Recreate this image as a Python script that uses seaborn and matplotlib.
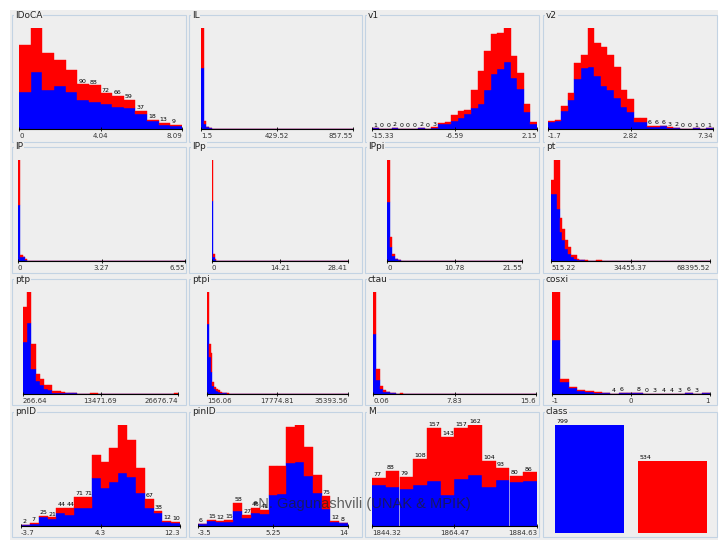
"""
Weka-style per-attribute class histograms (blue / red stacked), 4x4 grid.
"""

import matplotlib

matplotlib.use("Agg")
import matplotlib.pyplot as plt
import numpy as np
import pandas as pd
import seaborn as sns
from matplotlib.patches import Rectangle

W, H = 720, 540
BLUE = "#0000ff"
RED = "#ff0000"
PANEL_BG = "#eeeeee"
BORDER = "#c3d3e3"

# ---- bin counts per attribute (blue class at bottom, red class stacked on top) ----
idoca_range = (0, 8.09)
idoca_blue = [74, 116, 78, 86, 74, 59, 54, 51, 45, 43, 30, 17, 9, 7]
idoca_red = [95, 88, 75, 54, 46, 31, 34, 21, 21, 16, 7, 1, 4, 2]

il_range = (1.5, 857.55)
il_bins = 57
il_blue = [717, 59, 20, 6]
il_red = [473, 39, 8, 2]

v1_range = (-15.33, 2.15)
v1_blue = [1, 0, 0, 2, 0, 0, 0, 2, 0, 2, 9, 10, 15, 22, 30, 42, 50, 77, 110, 120, 133, 102, 80, 33, 9]
v1_red = [0, 0, 0, 0, 0, 0, 0, 0, 0, 1, 3, 4, 12, 13, 7, 36, 65, 78, 80, 71, 68, 43, 31, 17, 4]

v2_range = (-1.7, 7.34)
v2_blue = [14, 15, 35, 58, 99, 121, 123, 105, 85, 78, 61, 43, 33, 13, 13, 4, 4, 5, 2, 1, 0, 0, 1, 0, 1]
v2_red = [1, 2, 10, 13, 32, 27, 78, 67, 78, 70, 62, 35, 27, 8, 8, 2, 2, 1, 1, 1, 0, 0, 0, 0, 0]

ip_range = (0, 6.55)
ip_bins = 72
ip_blue = [635, 50, 40, 15, 4, 2]
ip_red = [513, 18, 6, 4, 1, 1]

ipp_range = (0, 28.41)
ipp_bins = 136
ipp_blue = [700, 43, 43, 15, 4]
ipp_red = [480, 39, 39, 4, 1]

ippi_range = (0, 21.55)
ippi_bins = 50
ippi_blue = [584, 139, 50, 20, 6]
ippi_red = [413, 99, 23, 3, 1]

pt_range = (515.22, 68395.52)
pt_bins = 56
pt_blue = [199, 199, 154, 87, 62, 37, 22, 12, 7, 4, 3, 2, 1, 0, 0, 0, 0, 0]
pt_red = [43, 103, 148, 42, 35, 25, 20, 5, 10, 3, 1, 2, 1, 0, 0, 0, 3, 3]

ptp_range = (266.64, 26676.74)
ptp_blue = [226, 309, 110, 55, 38, 23, 16, 6, 4, 4, 3, 3, 3, 0, 0, 0, 0, 0, 0,
            0, 0, 0, 0, 0, 0, 0, 0, 0, 0, 0, 0, 0, 0, 0, 0, 0, 2]
ptp_red = [148, 132, 105, 33, 26, 15, 22, 6, 8, 5, 3, 1, 1, 0, 0, 0, 3, 3, 0,
           0, 0, 0, 0, 0, 0, 0, 0, 0, 0, 0, 0, 0, 0, 0, 0, 0, 1]

ptpi_range = (156.06, 35393.56)
ptpi_bins = 77
ptpi_blue = [395, 211, 125, 48, 27, 15, 13, 8, 4, 4, 4, 2]
ptpi_red = [183, 70, 105, 20, 13, 13, 8, 3, 4, 4, 2, 2]

ctau_range = (0.06, 15.6)
ctau_bins = 49
ctau_blue = [546, 128, 43, 21, 15, 9, 6, 3, 3]
ctau_red = [384, 98, 30, 16, 6, 3, 0, 0, 3]

cosxi_range = (-1, 1)
cosxi_blue = [480, 105, 51, 30, 21, 12, 7, 3, 5, 10, 6, 0, 2, 3, 3, 2, 5, 2, 9]
cosxi_red = [420, 25, 15, 6, 9, 3, 3, 1, 1, 2, 2, 0, 1, 1, 1, 1, 1, 1, 2]

pnid_range = (-3.7, 12.3)
pnid_blue = [2, 5, 23, 16, 33, 28, 44, 44, 118, 93, 107, 129, 121, 82, 44, 33, 10, 8]
pnid_red = [0, 2, 2, 5, 11, 16, 27, 27, 56, 63, 85, 119, 91, 61, 23, 5, 2, 2]

pinid_range = (-3.5, 14)
pinid_blue = [5, 13, 10, 11, 38, 21, 33, 31, 79, 80, 158, 161, 127, 83, 42, 10, 7]
pinid_red = [1, 2, 2, 4, 20, 6, 12, 10, 71, 72, 92, 93, 71, 46, 33, 2, 1]

m_range = (1844.32, 1884.63)
m_blue = [65, 63, 59, 65, 72, 50, 76, 82, 62, 74, 71, 72]
m_red = [12, 25, 20, 43, 85, 93, 81, 80, 42, 19, 9, 14]

class_names = ["0", "1"]
class_counts = [799, 534]

# ---- layout (pixels) ----
col_boxes = [(12, 186), (189, 362), (365, 539), (543, 717)]
row_title_y = [15, 147, 279, 412]
row_bottom = [142, 273, 405, 537]
row_top = [28, 160, 292, 425]
row_base = [129, 261, 394, 526]


def fmt(v):
    s = f"{v:.2f}".rstrip("0").rstrip(".")
    return "0" if s in ("-0", "") else s


def pad(vals, n):
    return np.pad(np.asarray(vals, dtype=float), (0, n - len(vals)))


def px_axes(fig, x0, x1, top, base):
    return fig.add_axes([x0 / W, 1 - base / H, (x1 - x0) / W, (base - top) / H])


def draw_hist(fig, x0, x1, row, lo, hi, blue, red, nbins=None):
    nbins = nbins or len(blue)
    blue = pad(blue, nbins)
    red = pad(red, nbins)
    total = blue + red
    edges = np.linspace(lo, hi, nbins + 1)
    centers = (edges[:-1] + edges[1:]) / 2
    df = pd.DataFrame({
        "x": np.tile(centers, 2),
        "n": np.concatenate([blue, red]),
        "cls": ["0"] * nbins + ["1"] * nbins,
    })
    ax = px_axes(fig, x0, x1, row_top[row], row_base[row])
    sns.histplot(data=df, x="x", weights="n", hue="cls", hue_order=["1", "0"],
                 palette={"0": BLUE, "1": RED}, bins=nbins, binrange=(lo, hi), multiple="stack",
                 alpha=1, linewidth=0, legend=False, ax=ax)
    # close the hairline seams between neighbouring bars
    for p in ax.patches:
        p.set_edgecolor(p.get_facecolor())
        p.set_linewidth(0.3)
    ax.set_xlim(lo, hi)
    ax.set_ylim(0, total.max())
    ax.patch.set_alpha(0)
    for side in ("left", "top", "right"):
        ax.spines[side].set_visible(False)
    ax.spines["bottom"].set_color("black")
    ax.spines["bottom"].set_linewidth(0.8)
    ax.set_yticks([])
    ax.set_xlabel("")
    ax.set_ylabel("")
    ticks = [lo, (lo + hi) / 2, hi]
    ax.set_xticks(ticks)
    ax.set_xticklabels([fmt(t) for t in ticks])
    ax.tick_params(axis="x", length=3, width=0.6, direction="inout", labelsize=5, pad=1.5,
                   labelcolor="#333333")
    labels = ax.get_xticklabels()
    labels[0].set_ha("left")
    labels[2].set_ha("right")

    # Weka prints the count above a bar only when the number fits in the bar width
    bar_px = (x1 - x0) / nbins
    for i in range(nbins):
        s = str(int(total[i]))
        if 3.8 * len(s) + 1 <= bar_px:
            ax.annotate(s, (edges[i], total[i]), xytext=(0.8, 0.6), textcoords="offset points",
                        fontsize=4.5, ha="left", va="bottom", annotation_clip=False)
    return ax


def draw_class(fig, x0, x1, row):
    ax = px_axes(fig, x0, x1, row_top[row], 533)
    cdf = pd.DataFrame({"cls": class_names, "n": class_counts})
    width = 0.82
    sns.barplot(data=cdf, x="cls", y="n", hue="cls", palette={"0": BLUE, "1": RED},
                width=width, saturation=1, legend=False, ax=ax)
    ax.set_xlim(-0.5, 1.5)
    ax.set_ylim(0, max(class_counts))
    ax.patch.set_alpha(0)
    for side in ax.spines:
        ax.spines[side].set_visible(False)
    ax.set_xticks([])
    ax.set_yticks([])
    ax.set_xlabel("")
    ax.set_ylabel("")
    for i, n in enumerate(class_counts):
        ax.annotate(str(n), (i - width / 2, n), xytext=(0.5, 0.6), textcoords="offset points",
                    fontsize=4.5, ha="left", va="bottom", annotation_clip=False)


fig = plt.figure(figsize=(W / 100, H / 100), dpi=100)
fig.patch.set_facecolor("white")
fig.patches.append(Rectangle((10 / W, 0), (718 - 10) / W, 1 - 10 / H, transform=fig.transFigure,
                             fc=PANEL_BG, ec="none", zorder=-3))

titles = [["IDoCA", "IL", "v1", "v2"],
          ["IP", "IPp", "IPpi", "pt"],
          ["ptp", "ptpi", "ctau", "cosxi"],
          ["pnID", "pinID", "M", "class"]]

for r in range(4):
    for c in range(4):
        bx0, bx1 = col_boxes[c]
        ty = row_title_y[r]
        fig.patches.append(Rectangle((bx0 / W, 1 - row_bottom[r] / H), (bx1 - bx0) / W,
                                     (row_bottom[r] - ty) / H, transform=fig.transFigure,
                                     fc=PANEL_BG, ec=BORDER, lw=0.8, zorder=-2))
        fig.text((bx0 + 3) / W, 1 - ty / H, titles[r][c], fontsize=6.5, ha="left", va="center",
                 color="#222222", bbox=dict(fc=PANEL_BG, ec="none", pad=0.6))

draw_hist(fig, 19, 182, 0, *idoca_range, idoca_blue, idoca_red)
draw_hist(fig, 201, 353, 0, *il_range, il_blue, il_red, il_bins)
draw_hist(fig, 372, 537, 0, *v1_range, v1_blue, v1_red)
draw_hist(fig, 548, 713, 0, *v2_range, v2_blue, v2_red)

draw_hist(fig, 18, 185, 1, *ip_range, ip_blue, ip_red, ip_bins)
draw_hist(fig, 212, 348, 1, *ipp_range, ipp_blue, ipp_red, ipp_bins)
draw_hist(fig, 387, 522, 1, *ippi_range, ippi_blue, ippi_red, ippi_bins)
draw_hist(fig, 551, 710, 1, *pt_range, pt_blue, pt_red, pt_bins)

draw_hist(fig, 23, 178, 2, *ptp_range, ptp_blue, ptp_red)
draw_hist(fig, 207, 348, 2, *ptpi_range, ptpi_blue, ptpi_red, ptpi_bins)
draw_hist(fig, 373, 536, 2, *ctau_range, ctau_blue, ctau_red, ctau_bins)
draw_hist(fig, 552, 710, 2, *cosxi_range, cosxi_blue, cosxi_red)

draw_hist(fig, 21, 180, 3, *pnid_range, pnid_blue, pnid_red)
draw_hist(fig, 198, 348, 3, *pinid_range, pinid_blue, pinid_red)
draw_hist(fig, 372, 537, 3, *m_range, m_blue, m_red)
draw_class(fig, 548, 714, 3)

fig.text(253 / W, 1 - 504 / H, "\u2022N. Gagunashvili (UNAK & MPIK)", fontsize=10.5,
         family=["Liberation Sans", "DejaVu Sans"], color="#222222", alpha=0.7,
         ha="left", va="center", zorder=10)

fig.savefig("out.png", dpi=100)
